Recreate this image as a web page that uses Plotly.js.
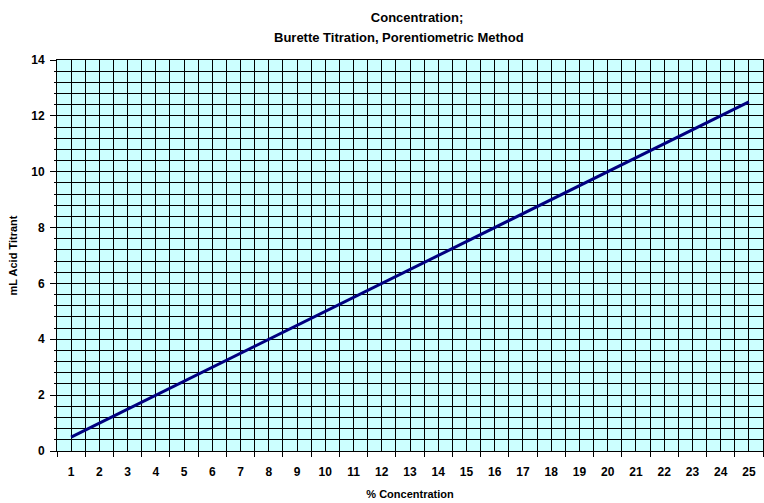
<!DOCTYPE html>
<html>
<head>
<meta charset="utf-8">
<script src="https://cdn.plot.ly/plotly-3.0.1.min.js"></script>
<style>html,body{margin:0;padding:0;background:#fff;}#chart{width:764px;height:503px;}</style>
</head>
<body>
<div id="chart"></div>
<script>
// Data
var concentration = [1,2,3,4,5,6,7,8,9,10,11,12,13,14,15,16,17,18,19,20,21,22,23,24,25];
var acidTitrant = [0.5,1.0,1.5,2.0,2.5,3.0,3.5,4.0,4.5,5.0,5.5,6.0,6.5,7.0,7.5,8.0,8.5,9.0,9.5,10.0,10.5,11.0,11.5,12.0,12.5];
var yTicks = [0,2,4,6,8,10,12,14];
var titleLine1 = 'Concentration;';
var titleLine2 = 'Burette Titration, Porentiometric Method';

var catEdges = [concentration[0]-0.5].concat(concentration.map(function(c){return c+0.5;}));
function bold(v){ return '<b>'+v+'</b>'; }

var fam = '"Liberation Sans", Arial, sans-serif';

var trace = {
  x: concentration, y: acidTitrant, type:'scatter', mode:'lines',
  line:{color:'#000080', width:3}, hoverinfo:'skip'
};

var layout = {
  width:764, height:503,
  margin:{l:57, r:1, t:60, b:52},
  paper_bgcolor:'#ffffff', plot_bgcolor:'#CCFFFF',
  showlegend:false,
  font:{family:fam, color:'#000'},
  title:{text:bold(titleLine1), font:{family:fam, size:13, color:'#000'},
         x:0.51, xanchor:'center', xref:'paper', yref:'container', y:1-17/503, yanchor:'middle'},
  annotations:[{text:bold(titleLine2), xref:'paper', yref:'paper', x:0.485, y:(451-37)/391,
                xanchor:'center', yanchor:'middle', showarrow:false,
                font:{family:fam, size:13, color:'#000'}}],
  xaxis:{
    range:[catEdges[0], catEdges[catEdges.length-1]],
    tickmode:'array', tickvals:concentration, ticktext:concentration.map(bold),
    ticks:'', showgrid:true, gridcolor:'#000', gridwidth:1,
    tickfont:{family:fam, size:12, color:'#000'},
    ticklabelstandoff:10,
    showline:true, linecolor:'#000', linewidth:1, mirror:true,
    zeroline:false,
    minor:{tickmode:'array', tickvals:catEdges, ticks:'outside', ticklen:5, tickcolor:'#000', tickwidth:1,
           showgrid:true, gridcolor:'#000', gridwidth:1},
    title:{text:'<b>% Concentration</b>', font:{family:fam, size:11, color:'#000'}, standoff:11}
  },
  yaxis:{
    range:[0,14], tickmode:'array', tickvals:yTicks, ticktext:yTicks.map(bold),
    ticks:'outside', ticklen:6, tickcolor:'#000',
    showgrid:true, gridcolor:'#000', gridwidth:1,
    tickfont:{family:fam, size:12, color:'#000'},
    ticklabelstandoff:3,
    showline:true, linecolor:'#000', linewidth:1, mirror:true,
    zeroline:false,
    minor:{dtick:0.4, tick0:0, ticks:'outside', ticklen:2, tickcolor:'#000', showgrid:true, gridcolor:'#000', gridwidth:1},
    title:{text:'<b>mL Acid Titrant</b>', font:{family:fam, size:11, color:'#000'}, standoff:11}
  }
};

Plotly.newPlot('chart', [trace], layout, {staticPlot:true, displayModeBar:false});
</script>
</body>
</html>
